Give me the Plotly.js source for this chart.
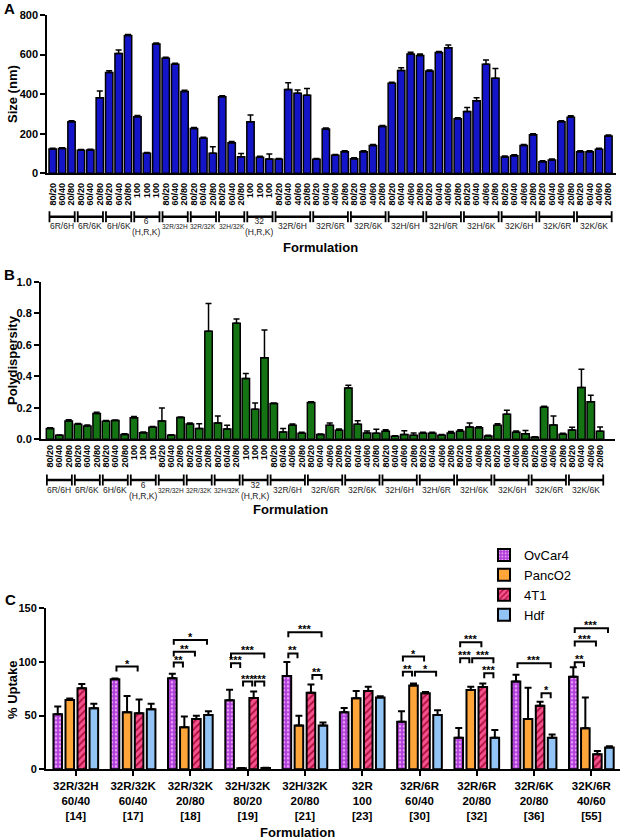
<!DOCTYPE html>
<html><head><meta charset="utf-8">
<script src="https://cdn.plot.ly/plotly-3.0.1.min.js"></script>
<style>html,body{margin:0;padding:0;background:#fff}#chart{width:626px;height:840px}</style>
</head><body><div id="chart"></div>
<script>
// ---------------- DATA ----------------
const groupNames = ['6R/6H','6R/6K','6H/6K','6<br>(H,R,K)','32R/32H','32R/32K','32H/32K','32<br>(H,R,K)',
  '32R/6H','32R/6R','32R/6K','32H/6H','32H/6R','32H/6K','32K/6H','32K/6R','32K/6K'];
const groupSizes = [3,3,3,3,3,3,3,3,4,4,4,4,4,4,4,4,4];
const ratioLabels = [
  '80/20','60/40','20/80', '80/20','60/40','20/80', '80/20','60/40','20/80', '100','100','100',
  '80/20','60/40','20/80', '80/20','60/40','20/80', '80/20','60/40','20/80', '100','100','100',
  '80/20','60/40','40/60','20/80', '80/20','60/40','40/60','20/80', '80/20','60/40','40/60','20/80',
  '80/20','60/40','40/60','20/80', '80/20','60/40','40/60','20/80', '80/20','60/40','40/60','20/80',
  '80/20','60/40','40/60','20/80', '80/20','60/40','40/60','20/80', '80/20','60/40','40/60','20/80'];
const sizeNm = [123,125,261, 116,118,382, 510,606,697, 286,101,653,
  581,551,414, 227,177,101, 387,155,84, 261,81,72,
  71,424,404,394, 71,224,91,109, 74,109,140,237, 455,519,603,595,
  517,610,635,276, 312,367,551,480, 83,89,140,195, 59,67,261,283, 109,109,121,189];
const sizeErr = [4,4,5, 4,4,34, 8,17,5, 6,4,6, 5,5,6, 5,5,33, 5,6,16, 33,5,25,
  4,34,17,35, 4,5,4,5, 4,5,5,5, 5,15,9,8, 5,6,13,5, 21,15,22,49, 5,5,5,5, 4,5,5,8, 5,5,5,5];
const pdi = [0.068,0.025,0.116, 0.095,0.085,0.163, 0.114,0.119,0.030, 0.136,0.042,0.076,
  0.116,0.025,0.138, 0.097,0.068,0.686, 0.104,0.066,0.737, 0.386,0.190,0.517,
  0.227,0.047,0.089,0.038, 0.233,0.030,0.089,0.057, 0.326,0.095,0.040,0.038,
  0.051,0.019,0.030,0.025, 0.038,0.038,0.025,0.040, 0.051,0.078,0.074,0.021,
  0.089,0.159,0.044,0.036, 0.013,0.203,0.091,0.032, 0.059,0.328,0.239,0.051];
const pdiErr = [0.005,0.003,0.008, 0.006,0.006,0.008, 0.006,0.004,0.005, 0.008,0.004,0.005,
  0.083,0.004,0.004, 0.007,0.030,0.176, 0.044,0.023,0.026, 0.031,0.041,0.176,
  0.004,0.021,0.008,0.006, 0.006,0.004,0.015,0.008, 0.017,0.022,0.012,0.025,
  0.010,0.004,0.025,0.015, 0.006,0.006,0.005,0.010, 0.010,0.026,0.006,0.004,
  0.010,0.025,0.008,0.020, 0.003,0.006,0.057,0.006, 0.018,0.117,0.041,0.027];

const formC  = ['32R/32H','32R/32K','32R/32K','32H/32K','32H/32K','32R','32R/6R','32R/6R','32R/6K','32K/6R'];
const ratioC = ['60/40','60/40','20/80','80/20','20/80','100','60/40','20/80','20/80','40/60'];
const idC    = ['[14]','[17]','[18]','[19]','[21]','[23]','[30]','[32]','[36]','[55]'];
const cellLines = ['OvCar4','PancO2','4T1','Hdf'];
const ovcar4   = [51.2,83.9,84.8,64.3,87.0,53.1,44.4,29.5,81.7,86.3];
const ovcar4E  = [7.2,0.8,4.2,9.7,13.0,4.0,9.6,9.0,6.3,8.7];
const panco2   = [64.6,53.1,39.1,1.0,40.7,66.1,78.0,73.9,46.9,38.2];
const panco2E  = [1.4,15.2,10.0,0.3,9.3,6.9,2.0,3.1,29.0,28.8];
const t41      = [75.5,52.2,46.9,66.5,71.4,73.0,70.8,76.7,59.3,14.0];
const t41E     = [4.0,12.8,3.0,6.0,7.6,4.0,1.2,3.3,3.7,3.0];
const hdf      = [56.8,55.9,50.6,1.2,40.7,67.0,50.6,29.5,29.5,20.2];
const hdfE     = [4.2,5.1,3.4,0.3,2.8,1.0,4.4,7.1,3.0,1.3];
// significance comparisons (group index, series a, series b, bracket level, label)
const sigGroup = [1,2,2,2,3,3,3,3,4,4,4,6,6,6,7,7,7,7,8,8,9,9,9];
const sigFrom  = [0,0,0,0,0,0,1,2,0,0,2,0,0,1,0,0,1,2,0,2,0,0,0];
const sigTo    = [2,1,2,3,1,3,2,3,1,3,3,2,1,3,2,1,3,3,3,3,1,2,3];
const sigLevel = [95.7,99.4,109.6,120.5,98.8,108,81.7,81.7,108,127.6,87.9,105,91,91,118.3,103.4,103.4,89.4,98.8,70.8,99.7,119,131.4];
const sigStars = ['*','**','**','*','***','***','***','***','**','***','**','*','**','*','***','***','***','***','***','*','**','***','***'];

// ---------------- STYLE ----------------
const W = 626, H = 840;
const FONT = 'Liberation Sans, Arial, sans-serif';
const fx = p => p / W, fy = p => 1 - p / H;
const smallGroups = new Set(['32R/32H','32R/32K','32H/32K']);
const offsC = [-0.315,-0.105,0.105,0.315];
const barWC = 0.15;
const seriesStyle = [
  {color:'#b23fdb', pattern:{shape:'.', fgcolor:'#e8a2f6', size:4, solidity:0.3}},
  {color:'#ffa53a'},
  {color:'#f4528e', pattern:{shape:'/', fgcolor:'#b0103c', size:5, solidity:0.35}},
  {color:'#92c5f5'}
];

const idx = ratioLabels.map((_, i) => i);
const zerosLike = a => a.map(() => 0);

const traces = [];
traces.push({type:'bar', x:idx, y:sizeNm, xaxis:'x', yaxis:'y', width:0.78, showlegend:false,
  marker:{color:'#1414c8', line:{color:'#000', width:1.5}},
  error_y:{type:'data', symmetric:false, array:sizeErr, arrayminus:zerosLike(sizeErr), color:'#000', thickness:1.5, width:3}});
traces.push({type:'bar', x:idx, y:pdi, xaxis:'x2', yaxis:'y2', width:0.8, showlegend:false,
  marker:{color:'#147414', line:{color:'#000', width:1.5}},
  error_y:{type:'data', symmetric:false, array:pdiErr, arrayminus:zerosLike(pdiErr), color:'#000', thickness:1.5, width:3}});
const seriesC = [ovcar4, panco2, t41, hdf];
const seriesCE = [ovcar4E, panco2E, t41E, hdfE];
const gIdx = formC.map((_, i) => i);
seriesC.forEach((vals, k) => {
  const st = seriesStyle[k];
  const marker = {color:st.color, line:{color:'#000', width:2}};
  if (st.pattern) marker.pattern = Object.assign({fillmode:'replace', bgcolor:st.color, fgopacity:1}, st.pattern);
  traces.push({type:'bar', name:cellLines[k], x:gIdx, y:vals, xaxis:'x3', yaxis:'y3',
    offset:offsC[k] - barWC/2, width:barWC, marker,
    error_y:{type:'data', symmetric:false, array:seriesCE[k], arrayminus:zerosLike(seriesCE[k]), color:'#000', thickness:2, width:3.5}});
});

// group brackets and labels for A and B
const shapes = [], annotations = [];
function groupDecor(xref, yBracket, yLabel) {
  let s = 0;
  groupNames.forEach((name, gi) => {
    const e = s + groupSizes[gi] - 1;
    const x0 = s - 0.34, x1 = e + 0.34;
    shapes.push({type:'line', xref, yref:'paper', x0, x1, y0:fy(yBracket), y1:fy(yBracket), line:{color:'#000', width:2.5}});
    [x0, x1].forEach(xx => shapes.push({type:'line', xref, yref:'paper', x0:xx, x1:xx,
      y0:fy(yBracket - 5.5), y1:fy(yBracket + 5.5), line:{color:'#000', width:1.8}}));
    annotations.push({xref, yref:'paper', x:(s + e) / 2, y:fy(yLabel), text:name, showarrow:false,
      xanchor:'center', yanchor:'middle',
      font:{family:FONT, size: smallGroups.has(name) ? 6.5 : 8.5, color:'#222'}});
    s = e + 1;
  });
}
groupDecor('x', 216.7, 226.5);
groupDecor('x2', 480, 490);

// significance brackets C
sigGroup.forEach((g, i) => {
  const xa = g + offsC[sigFrom[i]] + 0.025, xb = g + offsC[sigTo[i]] - 0.025;
  const y = sigLevel[i];
  shapes.push({type:'path', xref:'x3', yref:'y3', path:`M${xa},${y-4.5} L${xa},${y} L${xb},${y} L${xb},${y-4.5}`,
    line:{color:'#000', width:2}});
  annotations.push({xref:'x3', yref:'y3', x:(xa + xb) / 2, y, text:sigStars[i], showarrow:false,
    xanchor:'center', yanchor:'bottom', yshift:-5, font:{family:FONT, size:11, color:'#000', weight:'bold'}});
});

// titles and panel letters
const titleFont = {family:FONT, size:13, color:'#000', weight:'bold'};
[
  {t:'Size (nm)', x:12, y:94, rot:-90},
  {t:'Formulation', x:320, y:247, rot:0},
  {t:'Polydispersity', x:12, y:360, rot:-90},
  {t:'Formulation', x:290, y:510, rot:0},
  {t:'% Uptake', x:12, y:690, rot:-90},
  {t:'Formulation', x:297, y:832, rot:0}
].forEach(o => annotations.push({xref:'paper', yref:'paper', x:fx(o.x), y:fy(o.y), text:o.t, textangle:o.rot,
  showarrow:false, xanchor:'center', yanchor:'middle', font:titleFont}));
[['A',9,9],['B',9,275],['C',10,599]].forEach(([t,x,y]) => annotations.push({xref:'paper', yref:'paper',
  x:fx(x), y:fy(y), text:t, showarrow:false, xanchor:'center', yanchor:'middle',
  font:{family:FONT, size:15, color:'#000', weight:'bold'}}));

const axisCommon = {showline:true, linecolor:'#000', linewidth:2, showgrid:false, zeroline:false, fixedrange:true, automargin:false};
const yTick = {family:FONT, size:11, color:'#000', weight:'bold'};
const xTickAB = {family:FONT, size:9, color:'#000', weight:'bold'};

const layout = {
  width:W, height:H, margin:{l:0, r:0, t:0, b:0}, paper_bgcolor:'#fff', plot_bgcolor:'#fff',
  font:{family:FONT, color:'#000'}, barmode:'overlay', showlegend:true,
  xaxis: Object.assign({}, axisCommon, {domain:[fx(47.3), fx(616)], range:[-0.57, 59.8], anchor:'y',
    tickmode:'array', tickvals:idx, ticktext:ratioLabels, tickangle:-90, ticks:'', tickfont:xTickAB, ticklabelstandoff:4}),
  yaxis: Object.assign({}, axisCommon, {domain:[fy(173.3), fy(15)], range:[0, 800], anchor:'x',
    tickvals:[0,200,400,600,800], ticks:'outside', ticklen:5, tickwidth:2, tickcolor:'#000', tickfont:yTick}),
  xaxis2: Object.assign({}, axisCommon, {domain:[fx(41), fx(615)], range:[-0.97, 60.6], anchor:'y2',
    tickmode:'array', tickvals:idx, ticktext:ratioLabels, tickangle:-90, ticks:'', tickfont:xTickAB}),
  yaxis2: Object.assign({}, axisCommon, {domain:[fy(439.3), fy(281.7)], range:[0, 1], anchor:'x2',
    tickvals:[0,0.2,0.4,0.6,0.8,1.0], tickformat:'.1f', ticks:'outside', ticklen:5, tickwidth:2, tickcolor:'#000', tickfont:yTick}),
  xaxis3: Object.assign({}, axisCommon, {domain:[fx(46), fx(620)], range:[-0.52, 9.5], anchor:'y3',
    tickmode:'array', tickvals:gIdx, ticktext:formC.map((f, i) => `${f}<br>${ratioC[i]}<br>${idC[i]}`),
    ticks:'outside', ticklen:5, tickwidth:2, tickcolor:'#000', tickfont:{family:FONT, size:11.5, color:'#000', weight:'bold'}}),
  yaxis3: Object.assign({}, axisCommon, {domain:[fy(769.3), fy(608.3)], range:[0, 150], anchor:'x3',
    tickvals:[0,50,100,150], ticks:'outside', ticklen:5, tickwidth:2, tickcolor:'#000', tickfont:yTick}),
  legend:{x:fx(484), y:fy(540), xanchor:'left', yanchor:'top', bgcolor:'rgba(0,0,0,0)',
    font:{family:FONT, size:13, color:'#000'}, tracegroupgap:0},
  shapes, annotations
};
Plotly.newPlot('chart', traces, layout, {displayModeBar:false, staticPlot:true});
</script></body></html>
